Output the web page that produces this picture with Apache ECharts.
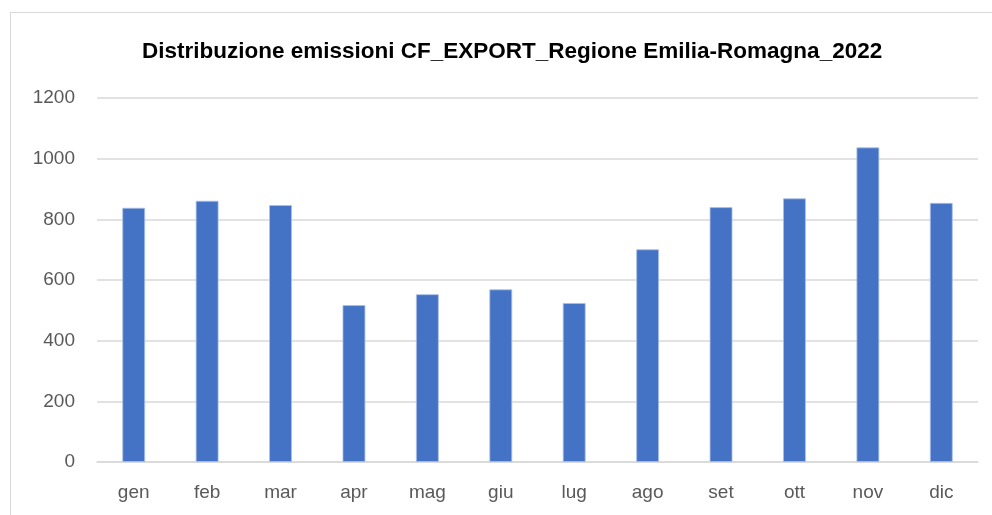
<!DOCTYPE html>
<html>
<head>
<meta charset="utf-8">
<script src="https://cdn.jsdelivr.net/npm/echarts@6/dist/echarts.min.js"></script>
<style>
  html, body { margin: 0; padding: 0; background: #fff; }
  #frame { position: absolute; left: 10px; top: 12px; width: 1000px; height: 600px;
           border-left: 1.5px solid #d9d9d9; border-top: 1.5px solid #d9d9d9; }
  #chart { position: absolute; left: 0; top: 0; width: 992px; height: 515px; }
</style>
</head>
<body>
<div id="frame"></div>
<div id="chart"></div>
<script>
// valori
const mesi = ["gen", "feb", "mar", "apr", "mag", "giu", "lug", "ago", "set", "ott", "nov", "dic"];
const emissioni = [838, 861, 847, 517, 553, 569, 524, 701, 840, 869, 1037, 854];
const titolo = "Distribuzione emissioni CF_EXPORT_Regione Emilia-Romagna_2022";

const font = "'Liberation Sans', Arial, sans-serif";
const chart = echarts.init(document.getElementById("chart"));
chart.setOption({
  animation: false,
  title: {
    text: titolo, left: 137, top: 35,
    textStyle: { fontFamily: font, fontSize: 22.5, fontWeight: "bold", color: "#000" },
  },
  grid: { left: 97, right: 14, top: 98, bottom: 53 },
  xAxis: {
    type: "category", data: mesi,
    axisLine: { lineStyle: { color: "#d9d9d9", width: 1.5 } },
    axisTick: { show: false },
    axisLabel: { fontFamily: font, fontSize: 19, color: "#595959", margin: 21 },
  },
  yAxis: {
    type: "value", min: 0, max: 1200, interval: 200,
    axisLine: { show: false },
    axisTick: { show: false },
    splitLine: { lineStyle: { color: "#d9d9d9", width: 1.5 } },
    axisLabel: { fontFamily: font, fontSize: 19, color: "#595959", margin: 22, formatter: v => String(v) },
  },
  series: [{
    type: "bar", data: emissioni, barWidth: "31%",
    itemStyle: { color: "#4472c4", borderColor: "#a9c0e8", borderWidth: 0.8 },
  }],
});
</script>
</body>
</html>
